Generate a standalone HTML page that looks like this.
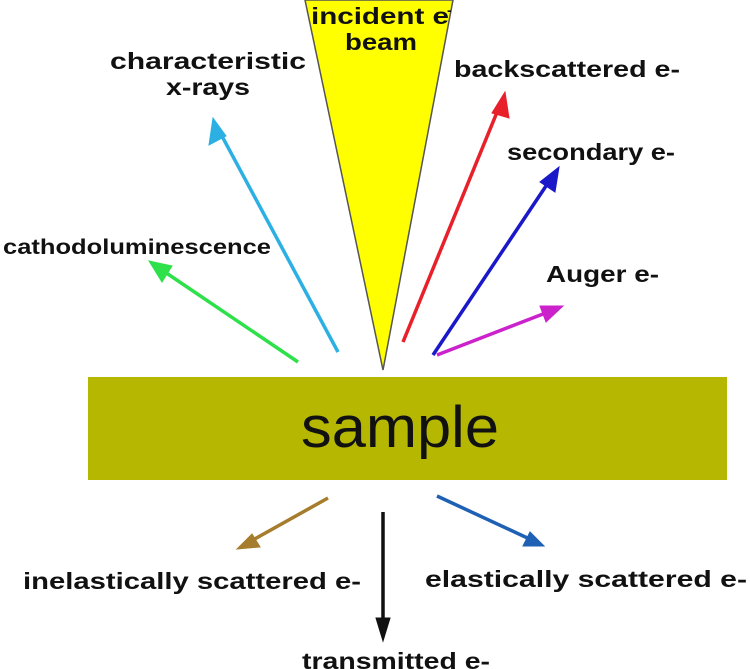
<!DOCTYPE html>
<html><head><meta charset="utf-8"><style>
html,body{margin:0;padding:0;background:#fff;}
svg{display:block;}
text{font-family:"Liberation Sans","DejaVu Sans",sans-serif;font-weight:bold;fill:#111;}
</style></head><body>
<svg width="750" height="669" viewBox="0 0 750 669" xmlns="http://www.w3.org/2000/svg">
<polygon points="305,0 453,0 383,370" fill="#ffff00" stroke="#555" stroke-width="1.5"/>
<text x="380" y="24" font-size="23" text-anchor="middle" textLength="138" lengthAdjust="spacingAndGlyphs">incident e</text>
<text x="447" y="15" font-size="14">-</text>
<text x="381" y="50" font-size="23" text-anchor="middle" textLength="72" lengthAdjust="spacingAndGlyphs">beam</text>
<rect x="88" y="377" width="639" height="103" fill="#b5b700"/>
<text x="400" y="447" font-size="58" text-anchor="middle" style="font-weight:normal" fill="#111" textLength="198" lengthAdjust="spacingAndGlyphs">sample</text>
<g stroke-width="3.5" fill="none">
<line x1="338" y1="352" x2="216" y2="125" stroke="#2cb0e4"/>
<path d="M213,118 L209,145 L226,136 Z" fill="#2cb0e4" stroke="#2cb0e4" stroke-width="1"/>
<line x1="298" y1="362" x2="156" y2="266" stroke="#2ee04a"/>
<path d="M149,261 L162,282 L172,266 Z" fill="#2ee04a" stroke="#2ee04a" stroke-width="1"/>
<line x1="403" y1="342" x2="502" y2="100" stroke="#e8202a"/>
<path d="M505,92 L492,113 L509,118 Z" fill="#e8202a" stroke="#e8202a" stroke-width="1"/>
<line x1="433" y1="355" x2="554" y2="174" stroke="#1a18c8"/>
<path d="M559,167 L540,182 L555,192 Z" fill="#1a18c8" stroke="#1a18c8" stroke-width="1"/>
<line x1="437" y1="355" x2="556" y2="309" stroke="#cc22cc"/>
<path d="M563,306 L540,306 L546,322 Z" fill="#cc22cc" stroke="#cc22cc" stroke-width="1"/>
<line x1="328" y1="498" x2="244" y2="545" stroke="#a67d2c"/>
<path d="M237,549 L252,534 L260,547 Z" fill="#a67d2c" stroke="#a67d2c" stroke-width="1"/>
<line x1="383" y1="512" x2="383" y2="632" stroke="#111"/>
<path d="M383,641 L376,618 L390,618 Z" fill="#111" stroke="#111" stroke-width="1"/>
<line x1="437" y1="496" x2="536" y2="542" stroke="#1e60b4"/>
<path d="M544,546 L530,532 L523,546 Z" fill="#1e60b4" stroke="#1e60b4" stroke-width="1"/>
</g>
<text x="208" y="69" font-size="23" text-anchor="middle" textLength="196" lengthAdjust="spacingAndGlyphs">characteristic</text>
<text x="208" y="95" font-size="23" text-anchor="middle" textLength="84" lengthAdjust="spacingAndGlyphs">x-rays</text>
<text x="3" y="254" font-size="21" textLength="268" lengthAdjust="spacingAndGlyphs">cathodoluminescence</text>
<text x="454" y="77" font-size="23" textLength="226" lengthAdjust="spacingAndGlyphs">backscattered e-</text>
<text x="507" y="160" font-size="23" textLength="168" lengthAdjust="spacingAndGlyphs">secondary e-</text>
<text x="546" y="282" font-size="23" textLength="113" lengthAdjust="spacingAndGlyphs">Auger e-</text>
<text x="23" y="589" font-size="23" textLength="338" lengthAdjust="spacingAndGlyphs">inelastically scattered e-</text>
<text x="425" y="587" font-size="23" textLength="322" lengthAdjust="spacingAndGlyphs">elastically scattered e-</text>
<text x="302" y="669" font-size="23" textLength="188" lengthAdjust="spacingAndGlyphs">transmitted e-</text>
</svg>
</body></html>
